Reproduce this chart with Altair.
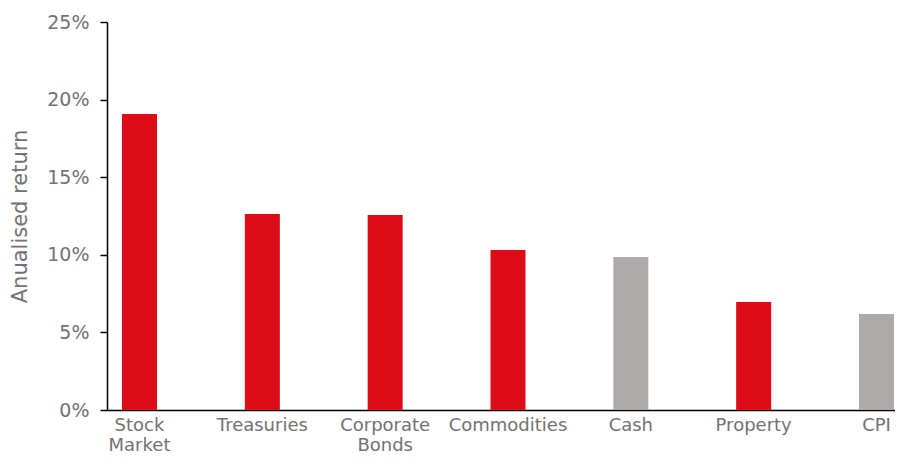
import altair as alt
import pandas as pd

categories = ["Stock Market", "Treasuries", "Corporate Bonds", "Commodities", "Cash", "Property", "CPI"]
returns = [0.1907, 0.1263, 0.1256, 0.1031, 0.0986, 0.0696, 0.0619]
groups = ["asset", "asset", "asset", "asset", "benchmark", "asset", "benchmark"]

df = pd.DataFrame({"category": categories, "ret": returns, "group": groups})

FONT = "DejaVu Sans"
GREY_TXT = "#727272"

chart = alt.Chart(df).mark_bar().encode(
    x=alt.X("category:N", sort=categories, title=None,
            scale=alt.Scale(paddingInner=0.715, paddingOuter=0.0651, align=0.9375),
            axis=alt.Axis(labelAngle=0, ticks=False, labelPadding=6,
                          labelExpr="split(datum.label, ' ')",
                          labelFontSize=18, labelColor=GREY_TXT, labelFont=FONT,
                          labelLineHeight=20, labelBaseline="top",
                          domainColor="#000000", domainWidth=1.5)),
    y=alt.Y("ret:Q", title="Anualised return",
            scale=alt.Scale(domain=[0, 0.25], nice=False),
            axis=alt.Axis(format=".0%", values=[0, 0.05, 0.10, 0.15, 0.20, 0.25],
                          grid=False, tickSize=7, tickColor="#000000", tickWidth=1.5,
                          domainColor="#000000", domainWidth=1.5,
                          labelFontSize=19, labelColor=GREY_TXT, labelFont=FONT,
                          labelPadding=11,
                          titleFontSize=21, titleColor=GREY_TXT, titleFont=FONT,
                          titleFontWeight="normal", titlePadding=16)),
    color=alt.Color("group:N", legend=None,
                    scale=alt.Scale(domain=["asset", "benchmark"], range=["#dc0d19", "#aeaaa9"])),
).properties(
    width=788, height=388,
    autosize=alt.AutoSizeParams(type="none"),
    padding={"left": 99, "top": 14, "right": 0, "bottom": 46},
).configure_view(stroke=None)

chart.save("out.html", embed_options={"renderer": "svg", "actions": False})
